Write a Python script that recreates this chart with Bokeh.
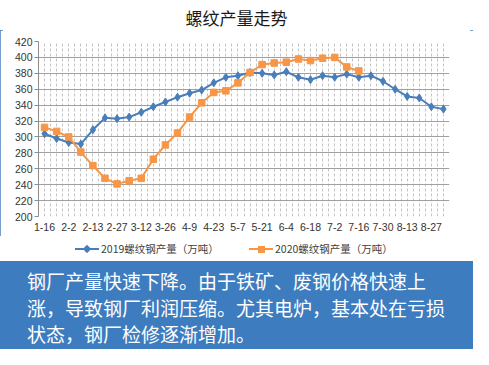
from bokeh.plotting import figure
from bokeh.models import Range1d, FixedTicker, Div
from bokeh.layouts import column
from bokeh.embed import file_html
from bokeh.resources import INLINE

# ---------------- data ----------------
title_text = "螺纹产量走势"
x_tick_labels = ["1-16", "2-2", "2-13", "2-27", "3-12", "3-26", "4-9", "4-23", "5-7",
                 "5-21", "6-4", "6-18", "7-2", "7-16", "7-30", "8-13", "8-27"]
series_2019_name = "2019螺纹钢产量（万吨）"
series_2019 = [304, 298, 293, 291, 309, 324, 323, 325, 331, 338, 344, 350, 355, 359,
               368, 375, 377, 381, 380, 378, 382, 375, 372, 377, 375, 379, 375, 377,
               370, 360, 351, 349, 338, 335]
series_2020_name = "2020螺纹钢产量（万吨）"
series_2020 = [312, 307, 300, 281, 264, 248, 241, 245, 248, 272, 290, 305, 325, 343,
               356, 358, 368, 381, 391, 393, 394, 398, 396, 399, 400, 388, 383]
y_ticks = list(range(200, 421, 20))
note_lines = ["钢厂产量快速下降。由于铁矿、废钢价格快速上",
              "涨，导致钢厂利润压缩。尤其电炉，基本处在亏损",
              "状态，钢厂检修逐渐增加。"]

BLUE = "#4a7ebb"
ORANGE = "#f79646"
BOX = "#3c7cbf"
CJK = "Noto Sans CJK SC"
LAT = "Liberation Sans"
W = 473

n = len(series_2019)
x19 = list(range(len(series_2019)))
x20 = list(range(len(series_2020)))

# ---------------- title ----------------
title_html = (f'<div style="width:{W}px;height:30px;box-sizing:border-box;padding-top:8px;'
              f"text-align:center;font-family:'{CJK}',sans-serif;font-size:17px;"
              f'line-height:20px;color:#1a1a1a;background:#ffffff;">{title_text}</div>')
title_div = Div(text=title_html, width=W, height=30, margin=0,
                styles={"background-color": "#ffffff"})

# ---------------- chart ----------------
p = figure(width=W, height=206, output_backend="svg", toolbar_location=None,
           x_range=Range1d(-0.5, n - 0.5), y_range=Range1d(200, 420),
           min_border_left=38, min_border_right=24, min_border_top=11, min_border_bottom=20,
           background_fill_color="white", border_fill_color="white")
p.outline_line_color = None

p.ygrid.ticker = FixedTicker(ticks=y_ticks[1:])
p.ygrid.grid_line_color = "#a0a0a0"
p.ygrid.grid_line_width = 1
p.xgrid.ticker = FixedTicker(ticks=[i * 0.5 - 0.5 for i in range(2 * n + 1)])
p.xgrid.grid_line_color = "#c4c4c4"
p.xgrid.grid_line_dash = "3 2"
p.xgrid.grid_line_width = 1

p.yaxis.ticker = FixedTicker(ticks=y_ticks)
p.yaxis.axis_line_color = "#8c8c8c"
p.yaxis.major_tick_line_color = "#8c8c8c"
p.yaxis.major_tick_out = 4
p.yaxis.major_tick_in = 0
p.yaxis.minor_tick_line_color = None
p.yaxis.major_label_standoff = 2
p.yaxis.major_label_text_font = LAT
p.yaxis.major_label_text_font_size = "10.5px"
p.yaxis.major_label_text_color = "#333333"

p.xaxis.ticker = FixedTicker(ticks=list(range(0, 2 * len(x_tick_labels), 2)))
p.xaxis.major_label_overrides = {2 * i: lab for i, lab in enumerate(x_tick_labels)}
p.xaxis.axis_line_color = None
p.xaxis.major_tick_line_color = None
p.xaxis.minor_tick_line_color = None
p.xaxis.major_tick_out = 0
p.xaxis.major_label_standoff = 6
p.xaxis.major_label_text_font = LAT
p.xaxis.major_label_text_font_size = "10.5px"
p.xaxis.major_label_text_color = "#333333"

p.line(x19, series_2019, line_color=BLUE, line_width=2)
p.scatter(x19, series_2019, marker="diamond", size=8, fill_color=BLUE, line_color=BLUE)
p.line(x20, series_2020, line_color=ORANGE, line_width=2)
p.scatter(x20, series_2020, marker="square", size=6.5, fill_color=ORANGE, line_color=ORANGE)

# ---------------- legend (HTML) ----------------
def legend_item(left, color, name, diamond):
    if diamond:
        mk = (f'<span style="position:absolute;left:9px;top:-2px;width:6px;height:6px;'
              f'background:{color};transform:rotate(45deg);"></span>')
    else:
        mk = (f'<span style="position:absolute;left:8.5px;top:-2.5px;width:7px;height:7px;'
              f'background:{color};"></span>')
    return (f'<div style="position:absolute;left:{left}px;top:6px;height:14px;display:flex;'
            f'align-items:center;white-space:nowrap;">'
            f'<span style="position:relative;display:inline-block;width:24px;height:2px;'
            f'background:{color};">{mk}</span>'
            f'<span style="margin-left:2px;line-height:14px;">{name}</span></div>')

legend_html = (f'<div style="position:relative;width:{W}px;height:25px;background:#ffffff;'
               f"font-family:'{CJK}',sans-serif;font-size:10.5px;color:#404040;\">"
               + legend_item(75, BLUE, series_2019_name, True)
               + legend_item(249, ORANGE, series_2020_name, False)
               + "</div>")
legend_div = Div(text=legend_html, width=W, height=25, margin=0,
                 styles={"background-color": "#ffffff"})

panel = column(title_div, p, legend_div, spacing=0,
               styles={"outline": f"3px solid {BLUE}", "outline-offset": "-3px",
                       "background-color": "#ffffff"})

# ---------------- note box ----------------
note_html = ('<div style="box-sizing:border-box;width:473px;height:88px;margin:0;'
             f'padding:7px 0 0 27px;background:{BOX};color:#ffffff;'
             f"font-family:'{CJK}',sans-serif;font-size:19px;line-height:26.5px;"
             'white-space:nowrap;">' + "<br>".join(note_lines) + "</div>")
note = Div(text=note_html, width=W, height=88, margin=0,
           styles={"background-color": BOX})

layout = column(panel, note, spacing=0)
open("out.html", "w").write(file_html(layout, INLINE))
